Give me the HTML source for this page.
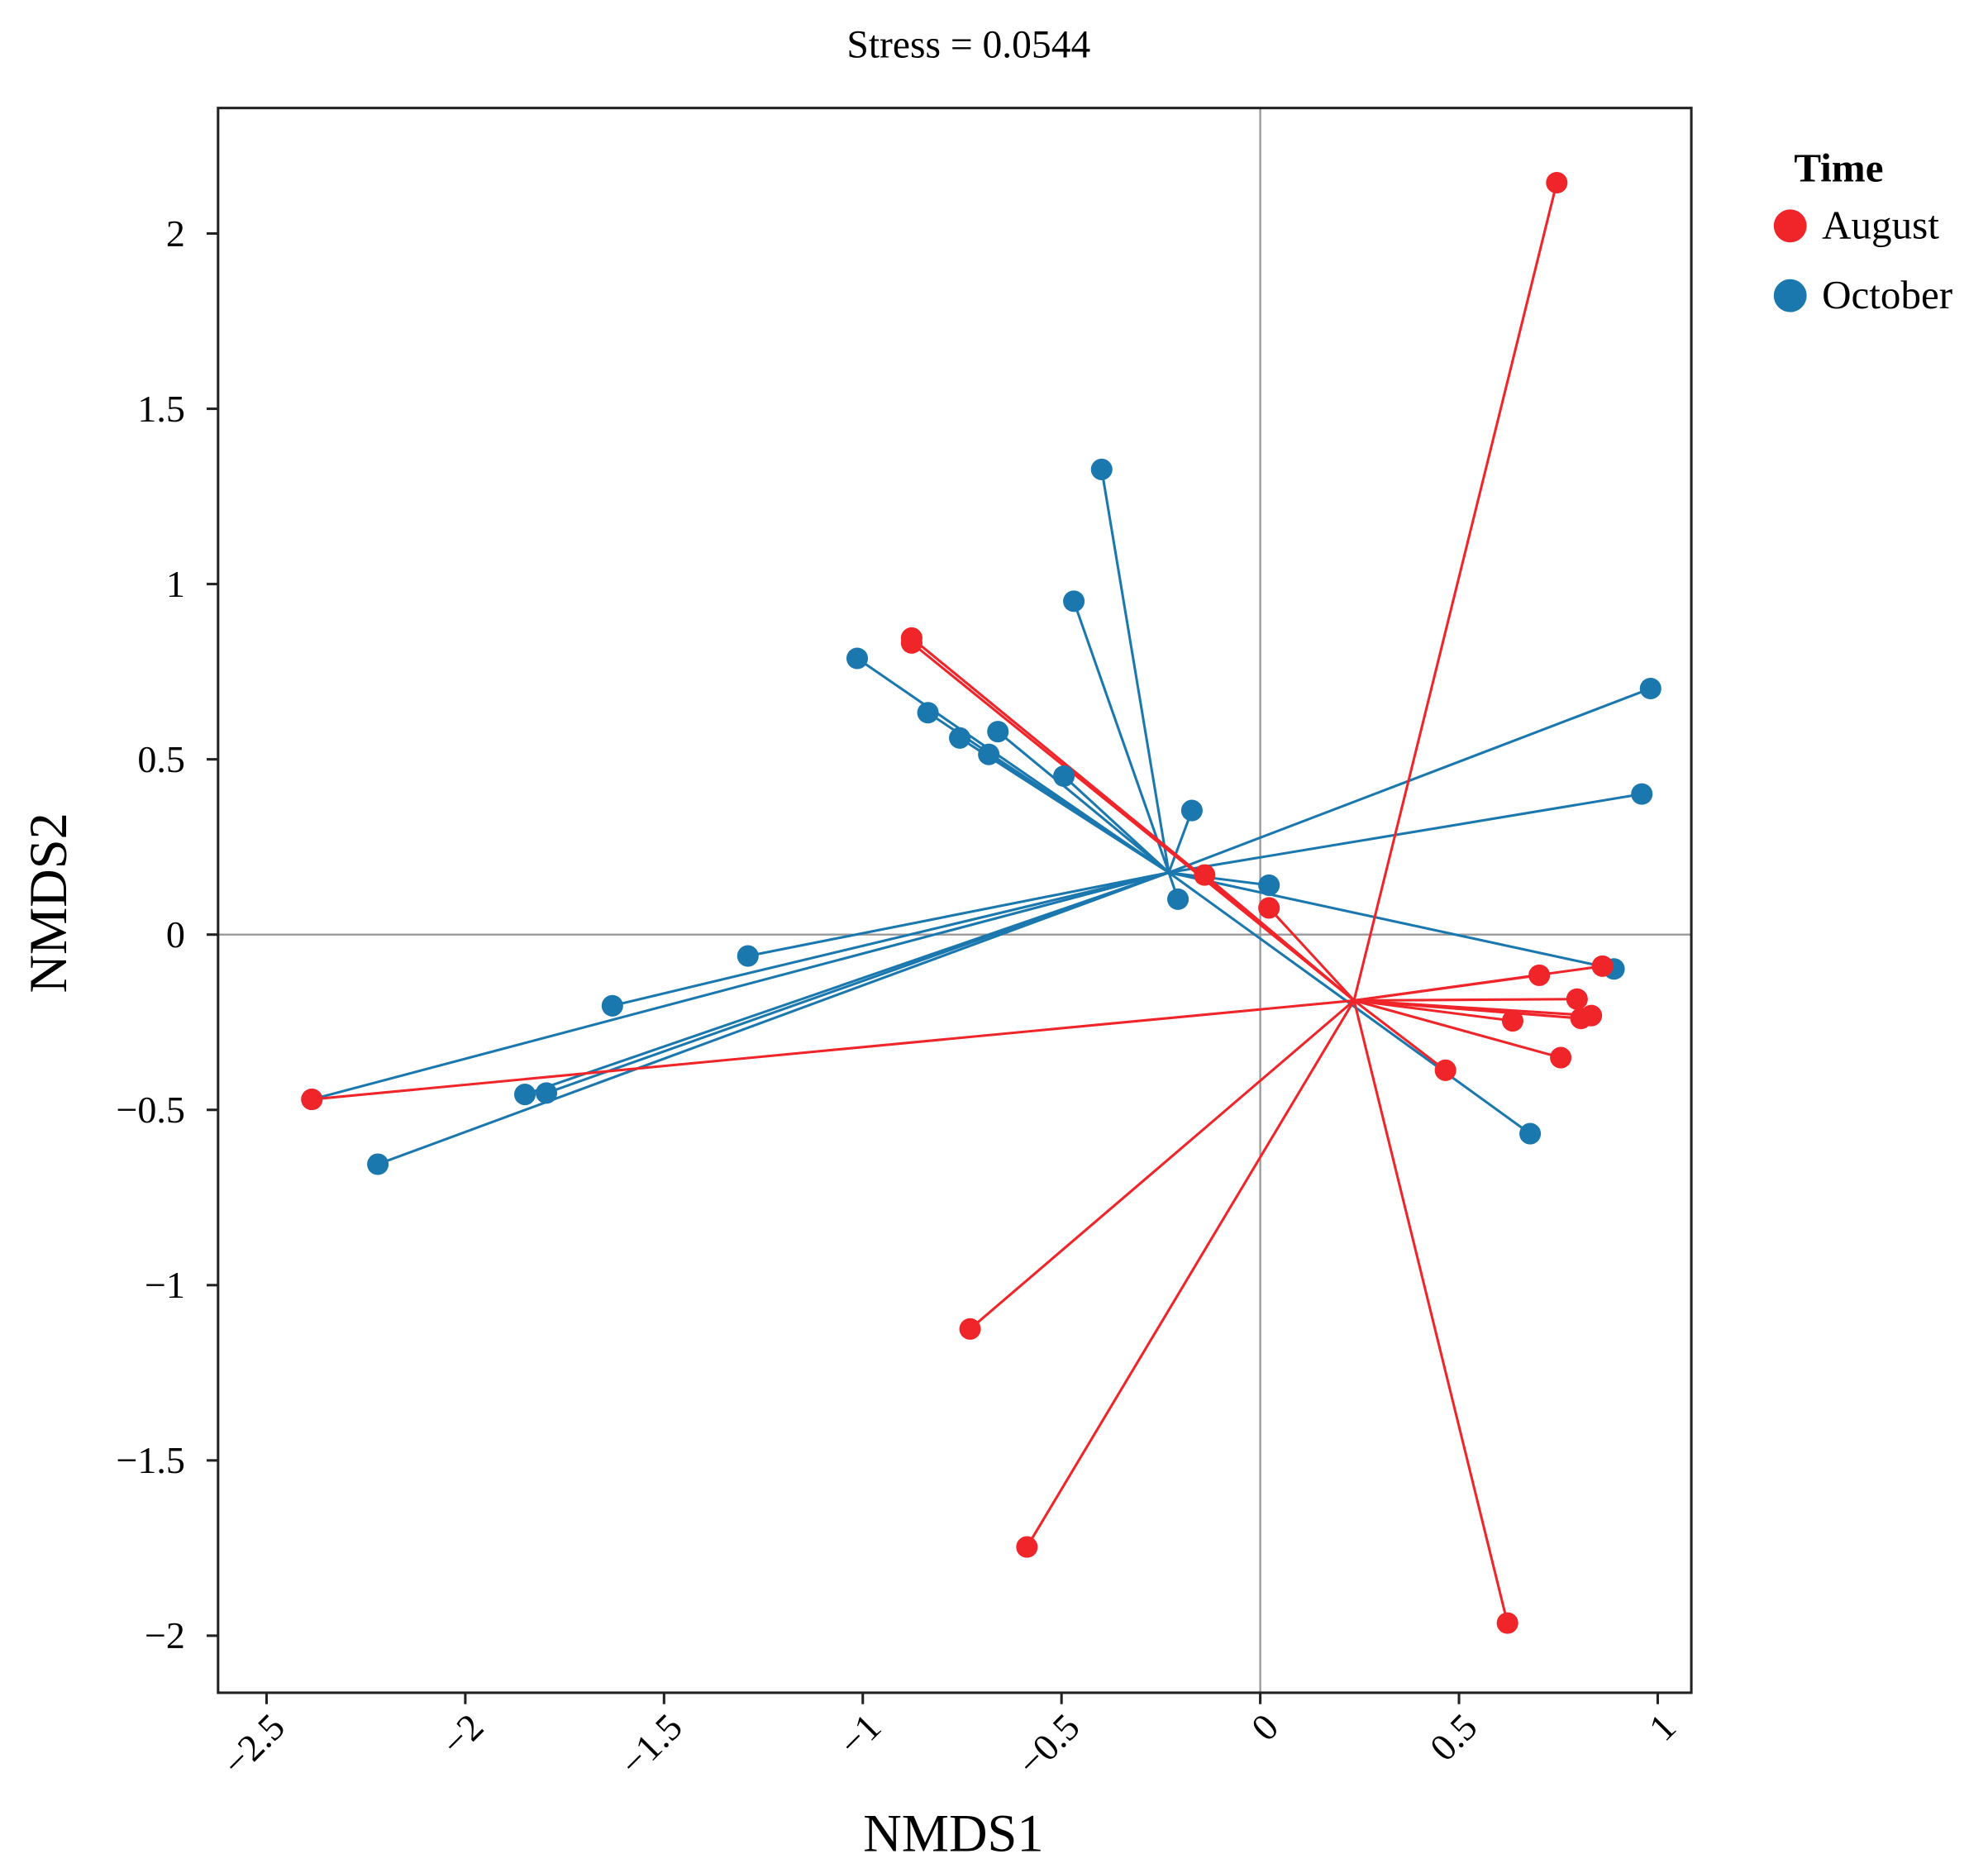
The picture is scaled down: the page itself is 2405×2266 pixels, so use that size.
<!DOCTYPE html>
<html><head><meta charset="utf-8"><style>html,body{margin:0;padding:0;background:#fff}svg{display:block}</style></head>
<body>
<svg width="2405" height="2266" viewBox="0 0 1568 1477" xmlns="http://www.w3.org/2000/svg" font-family="'Liberation Serif', serif">
<text x="764" y="45" font-size="31" text-anchor="middle">Stress = 0.0544</text>
<g id="plot"></g>
<g>
<text x="1415" y="143" font-size="32" font-weight="bold">Time</text>
<circle cx="1412" cy="178" r="13" fill="#f0252a"/>
<text x="1437" y="188" font-size="32">August</text>
<circle cx="1412" cy="233" r="13" fill="#1b78ae"/>
<text x="1437" y="243" font-size="32">October</text>
</g>
</svg>
<script>
const xTicks=[-2.5,-2,-1.5,-1,-0.5,0,0.5,1];
const yTicks=[-2,-1.5,-1,-0.5,0,0.5,1,1.5,2];
const augX=[0.746,-0.877,-0.877,-0.14,0.022,0.861,0.702,0.797,0.635,0.807,0.833,0.756,0.466,-2.386,-0.73,-0.587,0.622];
const augY=[2.145,0.846,0.832,0.17,0.076,-0.09,-0.116,-0.184,-0.246,-0.239,-0.231,-0.351,-0.387,-0.47,-1.125,-1.747,-1.964];
const octX=[-0.399,-0.469,-1.014,0.982,-0.836,-0.756,-0.66,-0.683,-0.494,-0.172,0.96,0.022,-0.207,0.89,-1.289,-1.63,-1.85,-1.796,-2.386,-2.22,0.679];
const octY=[1.327,0.951,0.788,0.702,0.633,0.561,0.579,0.514,0.452,0.354,0.401,0.141,0.101,-0.098,-0.061,-0.203,-0.456,-0.452,-0.47,-0.655,-0.568];
const augCentroid=[0.236,-0.188];
const octCentroid=[-0.23,0.177];
const X=v=>994+v*313.5, Y=v=>737-v*276.5;
const NS="http://www.w3.org/2000/svg";
const g=document.getElementById('plot');
function mk(t,a){const e=document.createElementNS(NS,t);for(const k in a)e.setAttribute(k,a[k]);g.appendChild(e);return e;}
let e;
e=mk('line',{x1:X(0),x2:X(0),y1:85,y2:1335,stroke:'#999','stroke-width':1.5});


e=mk('line',{x1:172,x2:1334,y1:Y(0),y2:Y(0),stroke:'#999','stroke-width':1.5});


function series(xs,ys,cen,col,name){
  const cx=cen[0],cy=cen[1];
  xs.forEach((x,i)=>{
    const l=mk('line',{x1:X(cx),y1:Y(cy),x2:X(x),y2:Y(ys[i]),stroke:col,'stroke-width':2});
    
    
  });
  return ()=>xs.forEach((x,i)=>{
    const c=mk('circle',{cx:X(x),cy:Y(ys[i]),r:8.5,fill:col});
    
    
  });
}
const po=series(octX,octY,octCentroid,'#1b78ae','october');
const pa=series(augX,augY,augCentroid,'#f0252a','august');
po();pa();
e=mk('rect',{x:172,y:85,width:1162,height:1250,fill:'none',stroke:'#222','stroke-width':2});


xTicks.forEach(t=>{
  const l=mk('line',{x1:X(t),x2:X(t),y1:1335,y2:1344,stroke:'#222','stroke-width':2});
  
  
  const s=String(t).replace('-','\u2212');
  const ax=X(t)+16, ay=1364;
  const tx=mk('text',{x:ax,y:ay,'font-size':30,'text-anchor':'end',transform:`rotate(-45 ${ax} ${ay})`});
  tx.textContent=s;
  
  
});
yTicks.forEach(t=>{
  const l=mk('line',{x1:163,x2:172,y1:Y(t),y2:Y(t),stroke:'#222','stroke-width':2});
  
  
  const tx=mk('text',{x:146,y:Y(t)+10,'font-size':30,'text-anchor':'end'});
  tx.textContent=String(t).replace('-','\u2212');
  
  
});
e=mk('text',{x:752,y:1460,'font-size':42,'text-anchor':'middle'});
e.textContent='NMDS1';


e=mk('text',{x:52,y:712,'font-size':42,'text-anchor':'middle',transform:'rotate(-90 52 712)'});
e.textContent='NMDS2';


</script>
</body></html>
